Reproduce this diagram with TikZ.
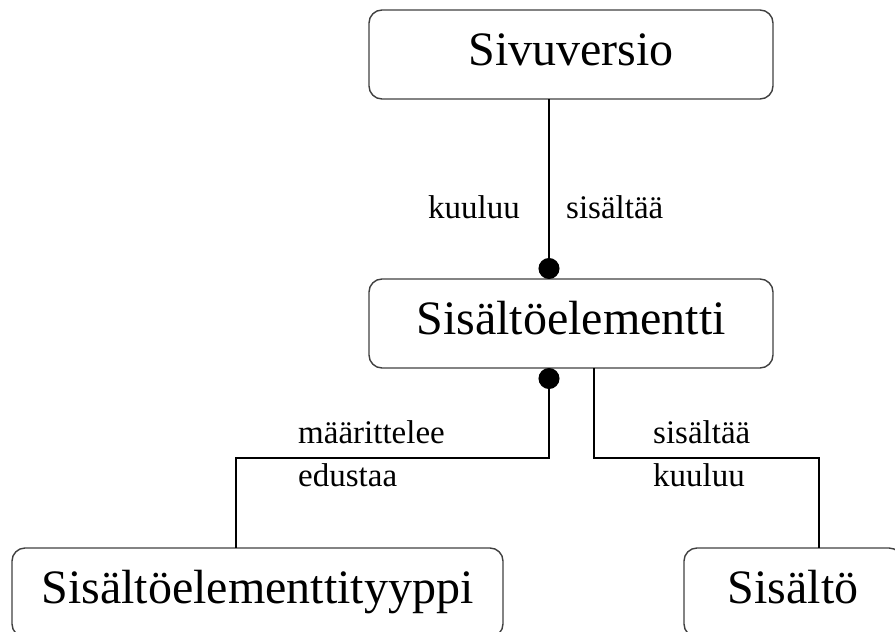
\documentclass[tikz,border=0pt]{standalone}
\usepackage{fontspec}
\setmainfont{Liberation Serif}
\usetikzlibrary{arrows.meta}
\begin{document}
\begin{tikzpicture}[x=1pt,y=-1pt,
  entity/.style={draw=black!75, line width=1.4pt, rounded corners=13pt,
    minimum height=89pt, inner sep=0pt, outer sep=0pt,
    text height=33pt, text depth=11pt,
    font=\fontsize{48}{56}\selectfont},
  link/.style={line width=1.4pt, black},
  role/.style={anchor=base west, inner sep=0pt,
    font=\fontsize{33}{40}\selectfont}]
  \useasboundingbox (0,0) rectangle (895,632);
  \clip (0,0) rectangle (895,632);

  % entities
  \node[entity, minimum width=404pt] (sv) at (571,54.5) {Sivuversio};
  \node[entity, minimum width=404pt] (se) at (571,323.5) {Sisältöelementti};
  \node[entity, minimum width=491pt] (tp) at (257.5,592.5) {Sisältöelementtityyppi};
  \node[entity, minimum width=218pt] (so) at (793,592.5) {Sisältö};

  % connector columns and the elbow row
  \coordinate (xa) at (236,0);
  \coordinate (xb) at (549,0);
  \coordinate (xc) at (594,0);
  \coordinate (xd) at (819,0);
  \coordinate (h)  at (0,458);

  % relations
  \draw[link, -{Circle[length=21pt]}] (sv.south -| xb) -- (se.north -| xb);
  \draw[link, {Circle[length=21pt]}-] (se.south -| xb) -- (xb |- h) -- (xa |- h) -- (tp.north -| xa);
  \draw[link] (se.south -| xc) -- (xc |- h) -- (xd |- h) -- (so.north -| xd);

  % role labels
  \node[role] (r1) at (428,218) {kuuluu};
  \node[role] (r2) at (566,218) {sisältää};
  \node[role] (r3) at (298,443) {määrittelee};
  \node[role] (r4) at (298,486) {edustaa};
  \node[role] (r5) at (653,443) {sisältää};
  \node[role] (r6) at (653,486) {kuuluu};
\end{tikzpicture}
\end{document}
